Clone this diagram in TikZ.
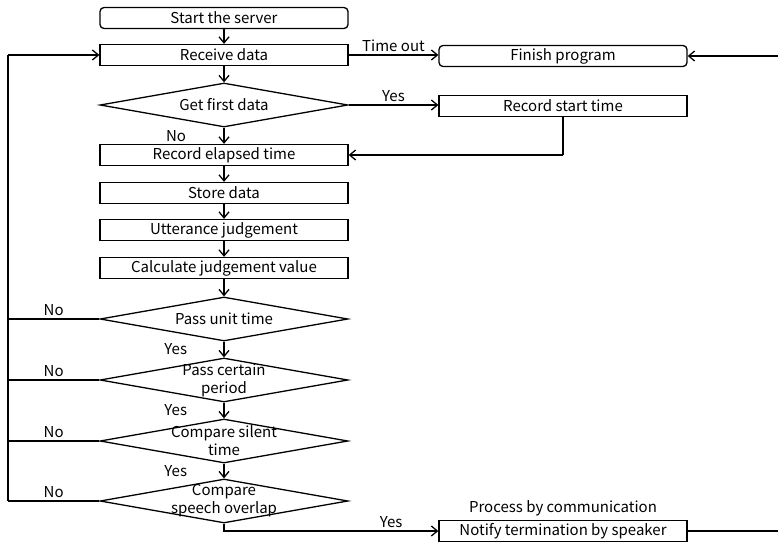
\documentclass[tikz,border=0pt]{standalone}
\usepackage{fontspec}
\setmainfont{Noto Sans CJK JP}
\usetikzlibrary{shapes.geometric,arrows.meta}

\tikzset{
  txt/.style={font=\fontsize{15}{18}\selectfont},
  proc/.style={draw, line width=1.3pt, txt, minimum width=248, minimum height=21, inner sep=0pt},
  term/.style={proc, rounded corners=4},
  decision/.style={draw, diamond, line width=1.3pt, txt, minimum width=248, minimum height=44, inner sep=0pt},
  flow/.style={-{Straight Barb[length=6pt,width=10pt]}, line width=1.3pt},
  loopline/.style={line width=2.6pt}
}

\begin{document}
\begin{tikzpicture}[x=1pt,y=-1pt]
    \useasboundingbox (0,0) rectangle (778,543);
    % Main column
    \node[term] (start) at (224,18) {Start the server};
    \node[proc] (recv) at (224,55) {Receive data};
    \node[decision] (first) at (224,105) {};
    \node[txt] (firstlbl) at (first) {Get first data};
    \node[proc] (elapsed) at (224,155) {Record elapsed time};
    \node[proc] (store) at (224,193) {Store data};
    \node[proc] (utter) at (224,230) {Utterance judgement};
    \node[proc] (calc) at (224,268) {Calculate judgement value};
    \node[decision] (unit) at (224,319) {};
    \node[txt] (unitlbl) at (unit) {Pass unit time};
    \node[decision] (period) at (224,380) {};
    \node[txt, align=center] (periodlbl) at (period) {Pass certain\\period};
    \node[decision] (silent) at (224,441) {};
    \node[txt, align=center] (silentlbl) at (silent) {Compare silent\\time};
    \node[decision] (overlap) at (224,501) {};
    \node[txt, align=center] (overlaplbl) at (overlap) {Compare\\speech overlap};
    % Right column
    \node[term] (finish) at (563,56) {Finish program};
    \node[proc] (rstart) at (563,106) {Record start time};
    \node[proc, label={[txt]above:Process by communication}] (notify) at (563,531) {Notify termination by speaker};
    \coordinate (back) at (8,0);
    \coordinate (edge) at (792,0);

    % Downward arrows
    \draw[flow] (start) -- (recv);
    \draw[flow] (recv) -- (first);
    \draw[flow] (first) -- node[txt, left=34pt] {No} (elapsed);
    \draw[flow] (elapsed) -- (store);
    \draw[flow] (store) -- (utter);
    \draw[flow] (utter) -- (calc);
    \draw[flow] (calc) -- (unit);
    \draw[flow] (unit) -- node[txt, left=33pt] {Yes} (period);
    \draw[flow] (period) -- node[txt, left=33pt] {Yes} (silent);
    \draw[flow] (silent) -- node[txt, left=33pt] {Yes} (overlap);

    % Branches to the right
    \draw[flow] (recv.east) -- node[txt, above=-1pt] {Time out} (finish.west |- recv.east);
    \draw[flow] (first.east) -- node[txt, above=-1pt] {Yes} (rstart.west |- first.east);
    \draw[loopline] (rstart.south) -- (rstart.south |- elapsed.east);
    \draw[flow] (rstart.south |- elapsed.east) -- (elapsed.east);
    \draw[flow] (overlap.south) |- node[txt, pos=0.89, above=-1pt] {Yes} (notify.west);
    \draw[loopline, flow] (notify.east) -- (notify.east -| edge) |- (finish.east);

    % Loop back on the left
    \draw[loopline] (unit.west) -- node[txt, above=-1pt] {No} (unit.west -| back);
    \draw[loopline] (period.west) -- node[txt, above=-1pt] {No} (period.west -| back);
    \draw[loopline] (silent.west) -- node[txt, above=-1pt] {No} (silent.west -| back);
    \draw[loopline] (overlap.west) -- node[txt, above=-1pt] {No} (overlap.west -| back);
    \draw[loopline] (overlap.west -| back) -- (recv.west -| back);
    \draw[flow] (recv.west -| back) -- (recv.west);
\end{tikzpicture}
\end{document}
